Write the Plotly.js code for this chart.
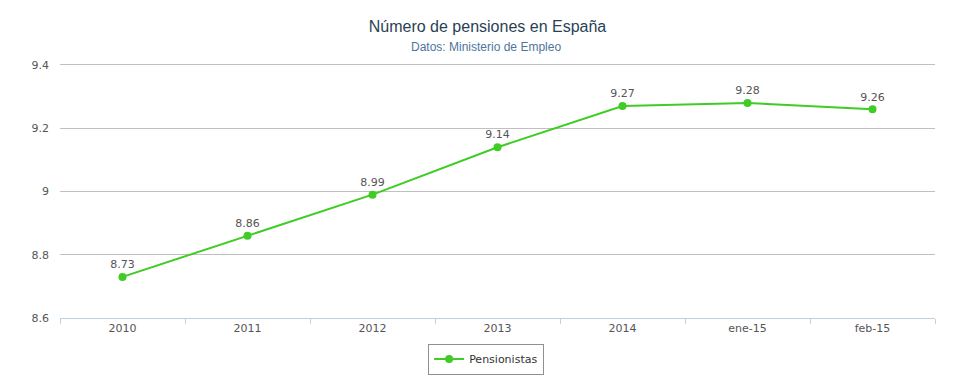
<!DOCTYPE html>
<html>
<head>
<meta charset="utf-8">
<script src="https://cdn.plot.ly/plotly-3.0.1.min.js"></script>
<style>html,body{margin:0;padding:0;background:#fff;}#chart{width:975px;height:390px;}</style>
</head>
<body>
<div id="chart"></div>
<script>
const categories = ["2010", "2011", "2012", "2013", "2014", "ene-15", "feb-15"];
const pensionistas = [8.73, 8.86, 8.99, 9.14, 9.27, 9.28, 9.26];
const seriesName = "Pensionistas";
const yTicks = [8.6, 8.8, 9, 9.2, 9.4];

const trace = {
  x: categories,
  y: pensionistas,
  name: seriesName,
  type: "scatter",
  mode: "lines+markers+text",
  text: pensionistas.map(v => String(v)),
  textposition: "top center",
  textfont: {family: "DejaVu Sans, Verdana, sans-serif", size: 11, color: "#555555"},
  line: {color: "#3fcc25", width: 2},
  marker: {color: "#3fcc25", size: 8},
  cliponaxis: false
};

const layout = {
  width: 975, height: 390,
  margin: {l: 60, r: 40, t: 63, b: 72},
  paper_bgcolor: "#ffffff", plot_bgcolor: "#ffffff",
  title: {
    text: "Número de pensiones en España",
    font: {family: "Liberation Sans, Arial, sans-serif", size: 16, color: "#2a3f55"},
    x: 0.5, xanchor: "center", y: 0.932, yanchor: "middle"
  },
  annotations: [{
    text: "Datos: Ministerio de Empleo",
    xref: "paper", yref: "paper", x: 0.487, y: 1.063, xanchor: "center", yanchor: "middle",
    showarrow: false,
    font: {family: "Liberation Sans, Arial, sans-serif", size: 12, color: "#4d759e"}
  }],
  xaxis: {
    type: "category",
    range: [-0.5, 6.5],
    showgrid: false,
    showline: true, linecolor: "#c0d0e0", linewidth: 1,
    ticks: "outside", tickson: "boundaries", ticklen: 5, tickcolor: "#c0d0e0",
    tickfont: {family: "DejaVu Sans, Verdana, sans-serif", size: 11, color: "#555555"},
    zeroline: false, fixedrange: true
  },
  yaxis: {
    range: [8.6, 9.4063],
    tickvals: yTicks,
    ticktext: yTicks.map(v => String(v)),
    showgrid: true, gridcolor: "#c0c0c0", gridwidth: 1,
    showline: false, zeroline: false, ticks: "",
    ticklabelstandoff: 10,
    tickfont: {family: "DejaVu Sans, Verdana, sans-serif", size: 11, color: "#555555"},
    fixedrange: true
  },
  showlegend: true,
  legend: {
    orientation: "h", x: 0.487, xanchor: "center", y: -0.1, yanchor: "top",
    bordercolor: "#909090", borderwidth: 1, bgcolor: "#ffffff",
    itemwidth: 30,
    font: {family: "DejaVu Sans, Verdana, sans-serif", size: 11, color: "#333333"}
  }
};

Plotly.newPlot("chart", [trace], layout, {displayModeBar: false, staticPlot: true});
</script>
</body>
</html>
